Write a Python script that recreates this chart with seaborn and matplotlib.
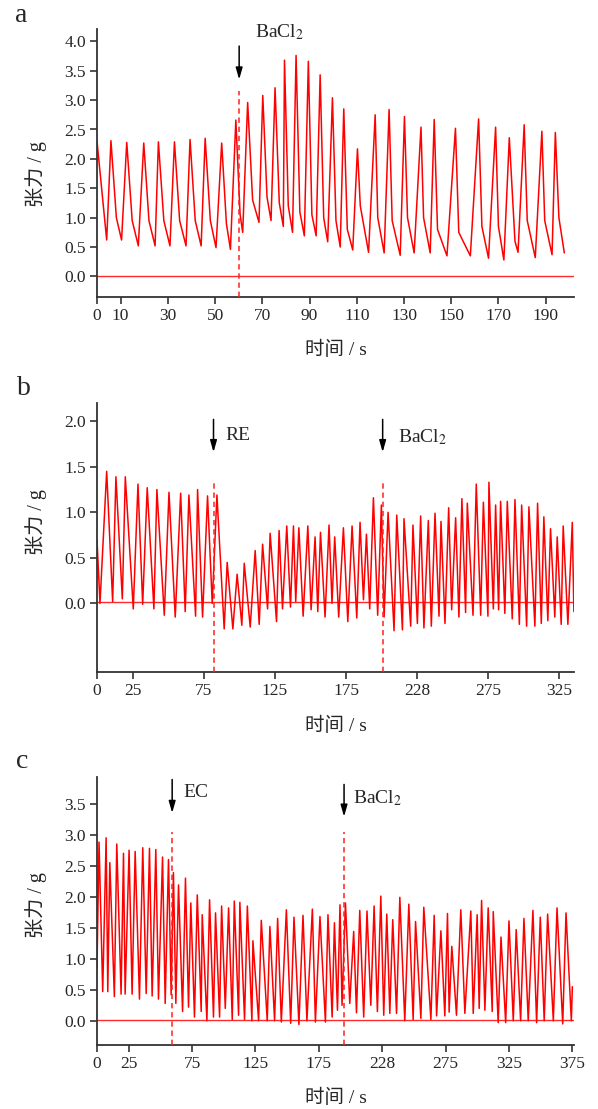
import numpy as np
import pandas as pd
import matplotlib
matplotlib.use('Agg')
import matplotlib.pyplot as plt
import seaborn as sns

# ---- panel a: peak / shoulder / trough of each contraction (time s, tension g)
a_start_t = [0.0, 2.0]
a_start_v = [2.30, 1.48]
a_trough_t = [4.1, 10.4, 17.5, 24.6, 30.9, 37.7, 44.1, 50.4, 56.5, 61.7, 68.6,
              73.7, 78.9, 82.8, 87.8, 92.8, 97.7, 103.0, 108.3, 115.0, 121.6,
              128.4, 134.3, 141.1, 148.2, 158.1, 165.8, 172.3, 178.3, 185.6,
              192.7, 197.9]
a_trough_v = [0.62, 0.62, 0.52, 0.52, 0.52, 0.52, 0.52, 0.49, 0.46, 0.75, 0.92,
              0.95, 0.85, 0.75, 0.69, 0.69, 0.59, 0.50, 0.45, 0.41, 0.40,
              0.36, 0.40, 0.40, 0.35, 0.35, 0.31, 0.28, 0.41, 0.32,
              0.37, 0.40]
a_peak_t = [5.9, 12.6, 19.8, 26.0, 32.8, 39.4, 45.8, 52.8, 58.8, 63.8, 70.2,
            75.4, 79.4, 84.3, 89.5, 94.5, 99.7, 104.5, 110.3, 117.8, 123.7,
            130.2, 137.2, 142.8, 151.8, 161.6, 168.8, 174.6, 180.9, 188.4, 194.1]
a_peak_v = [2.31, 2.28, 2.27, 2.29, 2.29, 2.33, 2.35, 2.27, 2.66, 2.96, 3.08,
            3.21, 3.68, 3.76, 3.66, 3.43, 3.04, 2.85, 2.17, 2.75, 2.84,
            2.72, 2.54, 2.67, 2.52, 2.68, 2.54, 2.36, 2.58, 2.47, 2.45]
a_shoulder_t = [8.2, 14.9, 22.0, 28.3, 35.0, 41.6, 48.0, 54.8, 60.6, 65.9, 72.0,
                77.2, 81.0, 85.9, 91.0, 96.0, 101.2, 106.0, 111.5, 118.9, 125.0,
                131.5, 138.3, 144.2, 153.2, 163.0, 170.0, 177.0, 182.2, 189.6, 195.6]
a_shoulder_v = [1.00, 0.95, 0.95, 0.95, 0.95, 0.95, 0.95, 0.90, 1.05, 1.30, 1.35,
                1.25, 1.20, 1.10, 1.05, 1.00, 0.95, 0.80, 1.20, 1.00, 0.95,
                1.00, 1.00, 0.80, 0.75, 0.85, 0.85, 0.60, 0.95, 0.95, 1.00]

# ---- panel b: start, then trough/peak pairs, then end point
b_start = (0.0, 0.70)
b_trough_t = [2.1, 11.0, 17.8, 25.5, 32.1, 40.0, 47.3, 55.0, 62.0, 69.3, 74.2,
              81.0, 89.4, 95.5, 101.8, 107.7, 114.0, 119.9, 126.2, 130.4, 136.0,
              139.7, 144.9, 150.5, 155.2, 160.3, 165.2, 169.9, 176.3, 182.6,
              187.3, 191.7, 197.3, 201.8, 208.8, 214.7, 220.5, 225.2, 229.8,
              235.0, 240.4, 244.6, 249.3, 254.4, 259.1, 264.3, 269.7, 274.8,
              278.6, 282.3, 286.7, 291.9, 296.9, 302.0, 307.8, 312.3, 316.9,
              321.8, 326.3, 331.0]
b_trough_v = [0.00, 0.02, 0.05, -0.06, -0.01, -0.06, -0.13, -0.15, -0.09, -0.14,
              -0.15, 0.00, -0.28, -0.28, -0.24, -0.26, -0.23, -0.06, -0.20, -0.06,
              -0.04, 0.02, -0.14, -0.07, -0.09, -0.15, 0.00, -0.15, -0.20, -0.16,
              0.04, -0.06, -0.13, -0.15, -0.30, -0.29, -0.25, -0.22, -0.27, -0.25,
              -0.14, -0.22, -0.07, -0.15, -0.10, -0.13, -0.13, -0.14, -0.06, -0.07,
              -0.11, -0.17, -0.23, -0.25, -0.25, -0.22, -0.19, -0.15, -0.23, -0.23]
b_peak_t = [6.8, 13.3, 19.9, 28.8, 35.3, 42.1, 50.6, 58.8, 64.6, 70.7, 77.7,
            84.3, 91.5, 98.5, 103.5, 111.2, 116.4, 121.7, 128.0, 133.4, 138.1,
            141.9, 148.2, 153.3, 157.1, 163.1, 167.1, 173.2, 179.3, 184.9,
            189.4, 194.3, 199.9, 204.6, 210.7, 215.8, 222.1, 227.5, 232.9,
            237.6, 241.8, 247.2, 252.1, 256.5, 260.3, 266.6, 271.6, 275.5,
            280.2, 283.7, 288.4, 293.8, 298.5, 303.6, 309.7, 314.1, 318.8,
            323.5, 327.7, 334.1]
b_peak_v = [1.45, 1.39, 1.39, 1.31, 1.27, 1.25, 1.22, 1.21, 1.19, 1.25, 1.18,
            1.19, 0.45, 0.32, 0.44, 0.58, 0.65, 0.77, 0.80, 0.85, 0.85,
            0.83, 0.85, 0.73, 0.78, 0.86, 0.73, 0.83, 0.85, 0.89,
            0.76, 1.16, 1.08, 1.00, 0.97, 0.93, 0.86, 0.96, 0.91,
            0.99, 0.90, 1.05, 0.94, 1.15, 1.10, 1.31, 1.11, 1.33,
            1.08, 1.12, 1.12, 1.14, 1.08, 1.06, 1.10, 0.95, 0.82,
            0.73, 0.85, 0.89]
b_end = (335.2, -0.09)

# ---- panel c: start, then peak/trough pairs, then end point
c_start = (0.0, 0.85)
c_peak_t = [1.6, 7.2, 10.1, 15.6, 20.9, 25.3, 30.1, 36.1, 41.4, 46.4, 51.7,
            56.4, 60.3, 64.3, 69.8, 74.0, 79.1, 83.0, 88.8, 93.5, 98.3,
            103.8, 108.3, 112.7, 118.6, 123.0, 129.6, 136.4, 142.5, 149.4,
            155.4, 162.5, 169.9, 175.9, 182.2, 187.3, 191.7, 196.0, 202.5,
            207.3, 213.0, 218.6, 223.9, 228.6, 233.3, 238.9, 246.0, 251.3,
            257.8, 266.0, 271.3, 276.5, 279.9, 287.0, 294.9, 299.9, 303.4,
            308.6, 312.6, 318.7, 325.0, 330.7, 336.8, 343.9, 349.7, 355.5,
            362.9, 370.0]
c_peak_v = [2.88, 2.95, 2.55, 2.85, 2.70, 2.75, 2.73, 2.79, 2.78, 2.76, 2.64,
            2.60, 2.39, 2.19, 2.30, 1.90, 2.03, 1.71, 1.95, 1.74, 1.85,
            1.82, 1.93, 1.91, 1.85, 1.29, 1.62, 1.52, 1.65, 1.79,
            1.67, 1.70, 1.80, 1.68, 1.71, 1.58, 1.87, 1.90, 1.44,
            1.78, 1.77, 1.85, 2.01, 1.72, 1.63, 1.99, 1.88, 1.60,
            1.83, 1.70, 1.45, 1.73, 1.20, 1.79, 1.77, 1.71, 1.94,
            1.82, 1.76, 1.35, 1.61, 1.47, 1.65, 1.78, 1.67, 1.72,
            1.82, 1.74]
c_trough_t = [4.5, 8.5, 13.7, 19.0, 22.2, 27.7, 33.5, 38.8, 43.5, 48.5, 53.8,
              58.5, 62.2, 67.5, 72.2, 76.9, 82.2, 86.7, 91.9, 96.7, 101.2,
              106.7, 111.7, 116.4, 122.2, 127.5, 134.3, 140.1, 145.4, 152.8,
              159.3, 165.6, 172.3, 180.2, 185.5, 189.7, 193.3, 199.4, 204.7,
              210.4, 216.0, 221.2, 226.2, 231.0, 236.3, 242.8, 249.4, 255.5,
              263.4, 267.9, 274.4, 277.8, 283.6, 290.2, 296.8, 301.5, 306.0,
              311.8, 316.5, 322.4, 328.4, 334.2, 340.2, 346.8, 352.8, 360.0,
              367.4, 374.2]
c_trough_v = [0.47, 0.47, 0.39, 0.43, 0.43, 0.43, 0.35, 0.44, 0.40, 0.35, 0.28,
              0.42, 0.28, 0.15, 0.22, 0.06, 0.15, 0.00, 0.06, 0.06, 0.20,
              0.02, 0.09, 0.02, 0.00, 0.00, 0.00, 0.00, -0.02, -0.04,
              -0.06, 0.00, -0.02, -0.02, 0.06, 0.17, 0.25, 0.28, 0.13,
              0.06, 0.25, 0.15, 0.09, 0.12, 0.12, 0.00, 0.02, 0.04,
              0.02, 0.08, 0.08, 0.14, 0.09, 0.12, 0.12, 0.20, 0.17,
              0.15, -0.03, -0.03, 0.00, 0.00, 0.00, -0.03, 0.00, 0.00,
              -0.05, 0.00]
c_end = (375.0, 0.55)

# ---- events, baseline, axes
a_events = [60.2]
a_event_labels = ['BaCl$_2$']
b_events = [81.9, 200.8]
b_event_labels = ['RE', 'BaCl$_2$']
c_events = [59.3, 194.9]
c_event_labels = ['EC', 'BaCl$_2$']
baseline = 0.01

a_xticks = [0, 10, 30, 50, 70, 90, 110, 130, 150, 170, 190]
a_xticklabels = ['0', '10', '30', '50', '70', '90', '110', '130', '150', '170', '190']
bc_xticks = [0, 25, 75, 125, 175, 225, 275, 325, 375]
bc_xticklabels = ['0', '25', '75', '125', '175', '228', '275', '325', '375']


def trace_a():
    t = list(a_start_t) + [a_trough_t[0]]
    v = list(a_start_v) + [a_trough_v[0]]
    for i in range(len(a_peak_t)):
        t += [a_peak_t[i], a_shoulder_t[i], a_trough_t[i + 1]]
        v += [a_peak_v[i], a_shoulder_v[i], a_trough_v[i + 1]]
    return pd.DataFrame({'time': t, 'tension': v})


def trace_b():
    t, v = [b_start[0]], [b_start[1]]
    for i in range(len(b_trough_t)):
        t += [b_trough_t[i], b_peak_t[i]]
        v += [b_trough_v[i], b_peak_v[i]]
    t.append(b_end[0])
    v.append(b_end[1])
    return pd.DataFrame({'time': t, 'tension': v})


def trace_c():
    t, v = [c_start[0]], [c_start[1]]
    for i in range(len(c_peak_t)):
        t += [c_peak_t[i], c_trough_t[i]]
        v += [c_peak_v[i], c_trough_v[i]]
    t.append(c_end[0])
    v.append(c_end[1])
    return pd.DataFrame({'time': t, 'tension': v})


sns.set_style('ticks')
plt.rcParams['font.family'] = ['Liberation Serif', 'Noto Sans CJK SC']
plt.rcParams['mathtext.fontset'] = 'stix'
plt.rcParams['axes.unicode_minus'] = False

fig = plt.figure(figsize=(5.98, 11.09), dpi=100)
left, width = 97 / 598, 477 / 598
ax_a = fig.add_axes([left, 1 - 297 / 1109, width, 268 / 1109])
ax_b = fig.add_axes([left, 1 - 672 / 1109, width, 269 / 1109])
ax_c = fig.add_axes([left, 1 - 1045 / 1109, width, 268 / 1109])

panels = [
    (ax_a, trace_a(), (0, 202), (-0.35, 4.21), np.arange(0, 4.01, 0.5),
     a_xticks, a_xticklabels, a_events, a_event_labels,
     3.15, [(3.92, 3.35)], [4.15], 'a', 0.459),
    (ax_b, trace_b(), (0, 335.3), (-0.753, 2.20), np.arange(0, 2.01, 0.5),
     bc_xticks[:-1], bc_xticklabels[:-1], b_events, b_event_labels,
     1.35, [(2.02, 1.66), (2.02, 1.66)], [1.84, 1.82], 'b', 0.558),
    (ax_c, trace_c(), (0, 376.3), (-0.39, 3.93), np.arange(0, 3.51, 0.5),
     bc_xticks, bc_xticklabels, c_events, c_event_labels,
     3.04, [(3.89, 3.35), (3.81, 3.29)], [3.68, 3.59], 'c', 0.522),
]
text_dx = {'a': [6.7], 'b': [8.0, 10.6], 'c': [8.9, 7.1]}
letter_pos = {'a': (21, 15), 'b': (24, 389), 'c': (22, 761)}

for (ax, df, xlim, ylim, yticks, xticks, xticklabels, events, labels,
     dash_top, arrows, text_y, letter, ylab_y) in panels:
    ax.axhline(baseline, color='#ff2a2a', lw=1.0, zorder=1)
    sns.lineplot(data=df, x='time', y='tension', sort=False, estimator=None,
                 color='#ff0000', lw=1.1, ax=ax, zorder=2)
    for i, (ev, lab) in enumerate(zip(events, labels)):
        ax.plot([ev, ev], [ylim[0], dash_top], color='#ff2020', lw=1.1,
                ls=(0, (3.5, 2.5)), zorder=3, clip_on=False)
        y0, y1 = arrows[i]
        ax.annotate('', xy=(ev, y1), xytext=(ev, y0),
                    arrowprops=dict(arrowstyle='-|>,head_length=0.7,head_width=0.2',
                                    color='black', lw=1.1, shrinkA=0, shrinkB=0),
                    annotation_clip=False)
        ax.text(ev + text_dx[letter][i], text_y[i], lab, fontsize=14,
                ha='left', va='center', clip_on=False)
    ax.set_xlim(*xlim)
    ax.set_ylim(*ylim)
    ax.set_xticks(xticks)
    ax.set_xticklabels(xticklabels)
    ax.set_yticks(yticks)
    ax.set_yticklabels(['%.1f' % y for y in yticks])
    ax.tick_params(labelsize=12.5, length=5, width=1.2, color='#333333',
                   direction='out', pad=3)
    for side in ['left', 'bottom']:
        ax.spines[side].set_color('#333333')
        ax.spines[side].set_linewidth(1.3)
    sns.despine(ax=ax)
    ax.set_xlabel('时间 / s', fontsize=14)
    ax.set_ylabel('张力 / g', fontsize=14.5)
    ax.xaxis.set_label_coords(0.5, -0.165)
    ax.yaxis.set_label_coords(-0.105, ylab_y)
    lx, ly = letter_pos[letter]
    fig.text(lx / 598, 1 - ly / 1109, letter, fontsize=20, ha='center',
             va='center')

fig.savefig('out.png', dpi=100)
